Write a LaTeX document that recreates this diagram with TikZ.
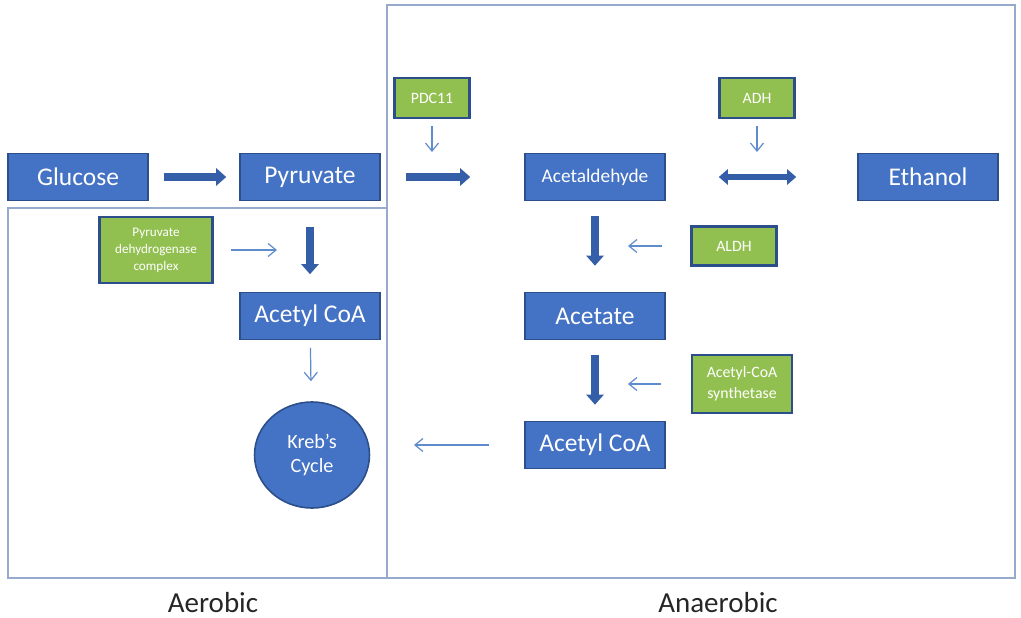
\documentclass[tikz,border=0pt]{standalone}
\usepackage{fontspec}
\setmainfont{Carlito}
\usetikzlibrary{arrows.meta,positioning,shapes.geometric}
\definecolor{boxblue}{RGB}{68,114,196}
\definecolor{edgeblue}{RGB}{44,78,138}
\definecolor{enzgreen}{RGB}{146,192,80}
\definecolor{thinblue}{RGB}{95,140,205}
\definecolor{framegray}{RGB}{150,170,205}
\definecolor{arrowblue}{RGB}{52,94,168}
\tikzset{
  metab/.style={
    draw=edgeblue,
    line width=0.9pt,
    fill=boxblue,
    text=white,
    align=center,
    minimum width=2.8cm,
    minimum height=0.94cm,
    inner sep=2pt,
    font=\fontsize{14.5}{16}\selectfont
  },
  enzyme/.style={
    draw=edgeblue,
    line width=1.2pt,
    fill=enzgreen,
    text=white,
    align=center,
    inner sep=2pt,
    font=\fontsize{9}{12}\selectfont
  },
  bigflow/.style={-{Triangle[length=2mm,width=3.4mm]}, line width=4.5pt, draw=arrowblue},
  bothflow/.style={{Triangle[length=1.8mm,width=3mm]}-{Triangle[length=1.8mm,width=3mm]}, line width=3.5pt, draw=arrowblue},
  enzflow/.style={-{Straight Barb[length=1.6mm,width=2.6mm]}, line width=0.7pt, draw=thinblue},
  panel/.style={draw=framegray, line width=0.9pt},
  side/.style={font=\fontsize{16.5}{18}\selectfont, text=black!85}
}
\begin{document}
\begin{tikzpicture}[x=0.02cm, y=-0.02cm]
  \useasboundingbox (0,0) rectangle (1021,618);
  \draw[panel] (387,5) rectangle (1015,578);
  \draw[panel] (8,208) rectangle (387,578);

  \node[metab] (glucose) at (78,177) {Glucose};
  \node[metab] (pyruvate) at (310,177) {Pyruvate};
  \node[metab, font=\fontsize{11}{13}\selectfont] (acetald) at (595,177) {Acetaldehyde};
  \node[metab] (ethanol) at (928,177) {Ethanol};
  \node[metab] (acetylL) at (310,316) {Acetyl CoA};
  \node[metab] (acetate) at (595,316) {Acetate};
  \node[metab] (acetylR) at (595,445) {Acetyl CoA};
  \node[metab, ellipse, inner sep=0pt, minimum width=2.3cm, minimum height=2.12cm,
        font=\fontsize{11.5}{14}\selectfont] (krebs) at (312,455) {Kreb's\\Cycle};

  \node[enzyme, minimum width=1.5cm, minimum height=0.8cm] (pdc) at (432,98) {PDC11};
  \node[enzyme, minimum width=1.5cm, minimum height=0.8cm] (adh) at (757,98) {ADH};
  \node[enzyme, minimum width=1.7cm, minimum height=0.78cm] (aldh) at (734,246) {ALDH};
  \node[enzyme, minimum width=2cm, minimum height=1.16cm] (acs) at (742,384) {Acetyl-CoA\\synthetase};
  \node[enzyme, minimum width=2.26cm, minimum height=1.32cm,
        font=\fontsize{7.5}{9.7}\selectfont] (pdh) at (156,250) {Pyruvate\\dehydrogenase\\complex};

  \draw[bigflow, shorten <=0.3cm, shorten >=0.26cm] (glucose) -- (pyruvate);
  \draw[bigflow, shorten <=0.5cm, shorten >=1.08cm] (pyruvate) -- (acetald);
  \draw[bothflow, shorten <=1.06cm, shorten >=1.22cm] (acetald) -- (ethanol);
  \draw[bigflow, shorten <=0.3cm, shorten >=0.52cm] (acetald) -- (acetate);
  \draw[bigflow, shorten <=0.3cm, shorten >=0.32cm] (acetate) -- (acetylR);
  \draw[bigflow, shorten <=0.51cm, shorten >=0.35cm] (pyruvate) -- (acetylL);

  \draw[enzflow, shorten <=0.14cm, shorten >=0.5cm] (pdc) -- (pdc |- pyruvate);
  \draw[enzflow, shorten <=0.14cm, shorten >=0.5cm] (adh) -- (adh |- acetald);
  \draw[enzflow, shorten <=0.57cm, shorten >=0.66cm] (aldh) -- (aldh -| acetald);
  \draw[enzflow, shorten <=0.6cm, shorten >=0.66cm] (acs) -- (acs -| acetate);
  \draw[enzflow, shorten <=0.35cm, shorten >=0.66cm] (pdh) -- (pdh -| pyruvate);
  \draw[enzflow, shorten <=0.15cm, shorten >=0.4cm] (acetylL) -- (krebs);
  \draw[enzflow, shorten <=0.7cm, shorten >=2.04cm] (acetylR) -- (acetylR -| krebs);

  \node[side] (aerobic) at (213,603) {Aerobic};
  \node[side] (anaerobic) at (718,603) {Anaerobic};
\end{tikzpicture}
\end{document}
